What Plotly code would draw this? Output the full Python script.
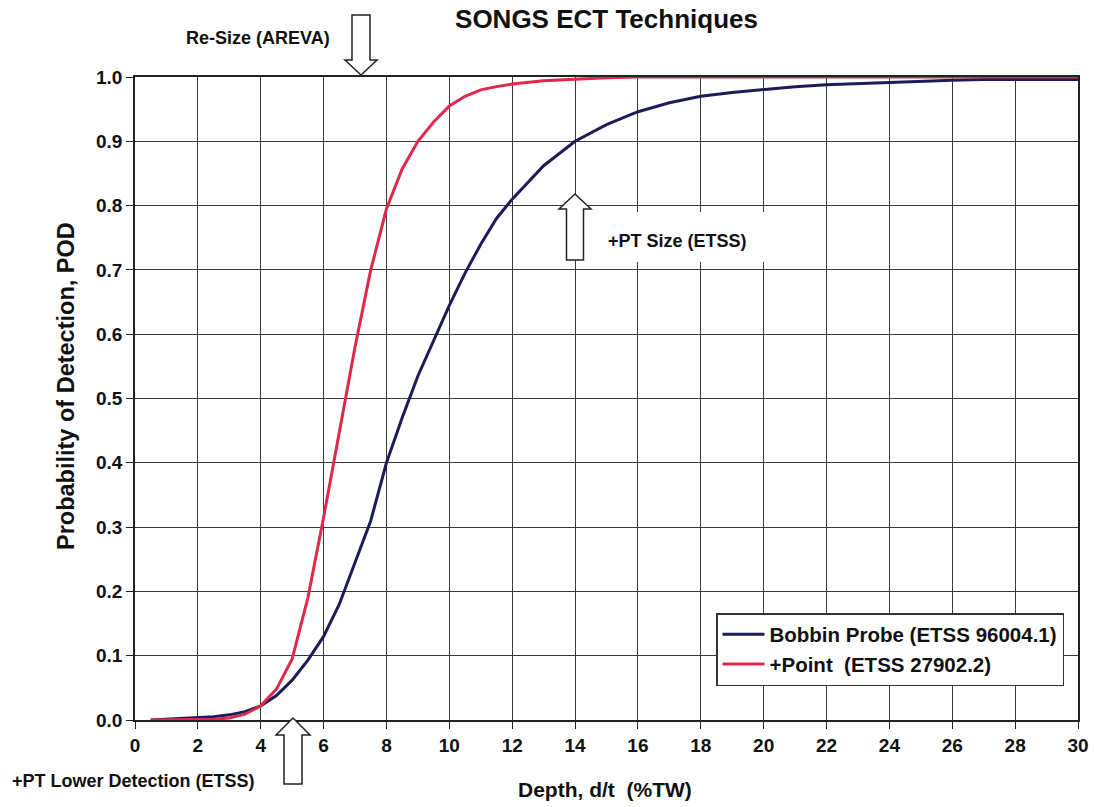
import plotly.graph_objects as go

# ---- data ----
depth_point = [0.5, 1, 1.5, 2, 2.5, 3, 3.5, 4, 4.5, 5, 5.5, 6, 6.5, 7, 7.5, 8, 8.5, 9, 9.5, 10,
               10.5, 11, 11.5, 12, 13, 14, 15, 16, 18, 20, 22, 24, 26, 28, 30]
pod_point = [0.0, 0.0, 0.0, 0.0005, 0.001, 0.003, 0.009, 0.022, 0.048, 0.095, 0.19, 0.315, 0.445,
             0.58, 0.70, 0.795, 0.857, 0.90, 0.93, 0.955, 0.97, 0.98, 0.985, 0.989, 0.994, 0.997,
             0.999, 1.0, 1.0, 1.0, 1.0, 1.0, 1.0, 1.0, 1.0]

depth_bobbin = [0.5, 1, 1.5, 2, 2.5, 3, 3.5, 4, 4.5, 5, 5.5, 6, 6.5, 7, 7.5, 8, 8.5, 9, 9.5, 10,
                10.5, 11, 11.5, 12, 13, 14, 15, 16, 17, 18, 19, 20, 21, 22, 23, 24, 25, 26, 27,
                28, 29, 30]
pod_bobbin = [0.0, 0.001, 0.002, 0.003, 0.005, 0.008, 0.013, 0.022, 0.038, 0.062, 0.093, 0.13,
              0.18, 0.245, 0.31, 0.40, 0.47, 0.535, 0.59, 0.645, 0.695, 0.74, 0.78, 0.81, 0.862,
              0.90, 0.926, 0.946, 0.96, 0.97, 0.976, 0.981, 0.985, 0.988, 0.990, 0.992, 0.994,
              0.995, 0.996, 0.996, 0.996, 0.996]

series_names = ["Bobbin Probe (ETSS 96004.1)", "+Point&nbsp; (ETSS 27902.2)"]
series_colors = ["#1e1b5a", "#e0284b"]

x_ticks = list(range(0, 31, 2))
y_ticks = [i / 10 for i in range(0, 11)]

title_text = "SONGS ECT Techniques"
x_title = "Depth, d/t&nbsp; (%TW)"
y_title = "Probability of Detection, POD"

FONT = "Liberation Sans, Arial, sans-serif"

# plot area in pixels (for placing annotation graphics)
L, R, T, B = 135, 1078, 77, 720


def px(xp, yp):
    return (xp - L) / (R - L), (B - yp) / (B - T)


def arrow_path(points):
    pts = [px(a, b) for a, b in points]
    d = "M " + " L ".join(f"{a:.5f},{b:.5f}" for a, b in pts) + " Z"
    return d


def down_arrow(cx, top, head_y, tip_y, bw, hw):
    return arrow_path([(cx - bw, top), (cx + bw, top), (cx + bw, head_y), (cx + hw, head_y),
                       (cx, tip_y), (cx - hw, head_y), (cx - bw, head_y)])


def up_arrow(cx, tip_y, head_y, bottom, bw, hw):
    return arrow_path([(cx, tip_y), (cx + hw, head_y), (cx + bw, head_y), (cx + bw, bottom),
                       (cx - bw, bottom), (cx - bw, head_y), (cx - hw, head_y)])


fig = go.Figure()
fig.add_trace(go.Scatter(x=depth_bobbin, y=pod_bobbin, mode="lines", name=series_names[0],
                         line=dict(color=series_colors[0], width=3)))
fig.add_trace(go.Scatter(x=depth_point, y=pod_point, mode="lines", name=series_names[1],
                         line=dict(color=series_colors[1], width=3)))

shapes = []
# white box behind "+PT Size (ETSS)"
x0, y0 = px(598, 262)
x1, y1 = px(770, 212)
shapes.append(dict(type="rect", xref="paper", yref="paper", x0=x0, y0=y0, x1=x1, y1=y1,
                   fillcolor="white", line=dict(width=0), layer="above"))
for d in [down_arrow(361, 15, 60, 75, 9, 16),
          up_arrow(575, 194, 209, 260, 8.5, 16),
          up_arrow(293, 718, 735, 784, 9, 17)]:
    shapes.append(dict(type="path", xref="paper", yref="paper", path=d, fillcolor="white",
                       line=dict(color="#222", width=1.5), layer="above"))

annotations = []
for text, cx, cy in [("Re-Size (AREVA)", 258, 38), ("+PT Size (ETSS)", 677, 241),
                     ("+PT Lower Detection (ETSS)", 133, 781)]:
    ax_, ay_ = px(cx, cy)
    annotations.append(dict(text=text, x=ax_, y=ay_, xref="paper", yref="paper",
                            showarrow=False, xanchor="center", yanchor="middle",
                            font=dict(family=FONT, size=18, color="#111", weight=700)))

# axis titles as annotations for exact placement
ax_, ay_ = px(605, 789)
annotations.append(dict(text=x_title, x=ax_, y=ay_, xref="paper", yref="paper",
                        showarrow=False, xanchor="center", yanchor="middle",
                        font=dict(family=FONT, size=21, color="#111", weight=700)))
ax_, ay_ = px(66, 386)
annotations.append(dict(text=y_title, x=ax_, y=ay_, xref="paper", yref="paper",
                        showarrow=False, xanchor="center", yanchor="middle", textangle=-90,
                        font=dict(family=FONT, size=23.5, color="#111", weight=700)))

fig.update_layout(
    width=1094, height=807,
    margin=dict(l=L, r=1094 - R, t=T, b=807 - B),
    paper_bgcolor="white", plot_bgcolor="white",
    title=dict(text=title_text, x=(L + R) / 2 / 1094, xanchor="center", y=1 - 19 / 807,
               yanchor="middle", font=dict(family=FONT, size=26, color="#111", weight=700)),
    font=dict(family=FONT, color="#111"),
    showlegend=True,
    legend=dict(x=(716 - L) / (R - L), y=(B - 613) / (B - T), xanchor="left", yanchor="top",
                bgcolor="white", bordercolor="#333", borderwidth=1.5, itemwidth=42,
                font=dict(family=FONT, size=20.5, color="#111", weight=700)),
    shapes=shapes,
    annotations=annotations,
)
fig.update_xaxes(range=[0, 30], tickvals=x_ticks, ticktext=[str(v) for v in x_ticks],
                 showgrid=True, gridcolor="#3a3a3a", gridwidth=1,
                 showline=True, linecolor="#222", linewidth=1.5, mirror=True,
                 ticks="outside", ticklen=7, tickcolor="#222", automargin=False,
                 tickfont=dict(family=FONT, size=19, color="#111", weight=700),
                 zeroline=False)
fig.update_yaxes(range=[0, 1], tickvals=y_ticks, tickformat=".1f",
                 showgrid=True, gridcolor="#3a3a3a", gridwidth=1,
                 showline=True, linecolor="#222", linewidth=1.5, mirror=True,
                 ticks="outside", ticklen=7, tickcolor="#222", automargin=False,
                 tickfont=dict(family=FONT, size=19, color="#111", weight=700),
                 zeroline=False)

fig.write_html("out.html", config={"displayModeBar": False},
               post_script="document.body.style.margin='0';")
